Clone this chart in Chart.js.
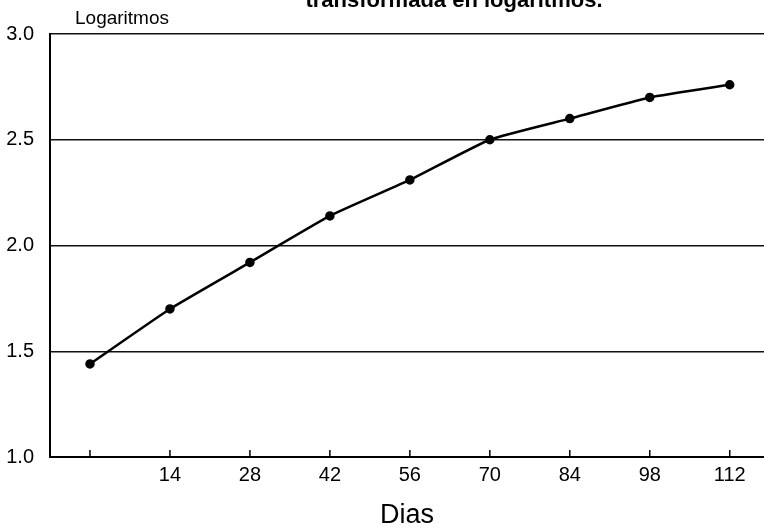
<!DOCTYPE html>
<html>
<head>
<meta charset="utf-8">
<script src="https://cdn.jsdelivr.net/npm/chart.js@4.4.1/dist/chart.umd.min.js"></script>
<style>
  body { margin: 0; background: #fff; }
  canvas { display: block; }
</style>
</head>
<body>
<canvas id="logChart" width="764" height="532"></canvas>
<script>
// data
var dias = [0, 14, 28, 42, 56, 70, 84, 98, 112];
var logaritmos = [1.44, 1.70, 1.92, 2.14, 2.31, 2.50, 2.60, 2.70, 2.76];
var xTicks = [0, 14, 28, 42, 56, 70, 84, 98, 112];
var yTicks = [1.0, 1.5, 2.0, 2.5, 3.0];

var FONT = '"Liberation Sans", Arial, sans-serif';

// title (cut off by the page top), y-axis caption and inside tick marks
var extras = {
    id: 'extras',
    afterDraw: function(chart) {
        var ctx = chart.ctx;
        var x = chart.scales.x;
        ctx.save();
        ctx.fillStyle = '#000';
        ctx.font = 'bold 22px ' + FONT;
        ctx.textAlign = 'center';
        ctx.textBaseline = 'alphabetic';
        ctx.fillText('transformada en logaritmos.', 454, 7);

        ctx.font = '19px ' + FONT;
        ctx.textAlign = 'left';
        ctx.fillText('Logaritmos', 75, 24);

        ctx.strokeStyle = '#000';
        ctx.lineWidth = 1.5;
        var yb = chart.chartArea.bottom;
        xTicks.forEach(function(v) {
            var px = x.getPixelForValue(v);
            ctx.beginPath();
            ctx.moveTo(px, yb);
            ctx.lineTo(px, yb - 7);
            ctx.stroke();
        });
        ctx.restore();
    }
};

var ctx = document.getElementById('logChart').getContext('2d');
var chart = new Chart(ctx, {
    type: 'line',
    data: {
        datasets: [{
            data: dias.map(function(d, i) { return { x: d, y: logaritmos[i] }; }),
            borderColor: '#000',
            backgroundColor: '#000',
            borderWidth: 2.5,
            pointRadius: 3.5,
            pointBackgroundColor: '#000',
            tension: 0.15,
            fill: false
        }]
    },
    options: {
        responsive: false,
        animation: false,
        layout: {
            autoPadding: false,
            padding: { top: 34, left: 0, right: 0, bottom: 0 }
        },
        plugins: {
            legend: { display: false },
            tooltip: { enabled: false }
        },
        scales: {
            x: {
                type: 'linear',
                min: -7,
                max: 118,
                afterBuildTicks: function(scale) {
                    scale.ticks = xTicks.map(function(v) { return { value: v }; });
                },
                afterFit: function(scale) { scale.height = 75; },
                grid: { display: false, drawTicks: false },
                border: { display: true, color: '#000', width: 2 },
                ticks: {
                    color: '#000',
                    font: { family: FONT, size: 20 },
                    padding: 6,
                    maxRotation: 0,
                    callback: function(v) { return v === 0 ? '' : String(v); }
                },
                title: {
                    display: true,
                    text: 'Dias',
                    color: '#000',
                    font: { family: FONT, size: 27 },
                    padding: { top: 2, bottom: 0 }
                }
            },
            y: {
                min: 1,
                max: 3,
                afterBuildTicks: function(scale) {
                    scale.ticks = yTicks.map(function(v) { return { value: v }; });
                },
                afterFit: function(scale) { scale.width = 50; },
                grid: {
                    color: '#111',
                    lineWidth: 1.5,
                    drawTicks: false
                },
                border: { display: true, color: '#000', width: 2 },
                ticks: {
                    color: '#000',
                    font: { family: FONT, size: 20 },
                    padding: 16,
                    callback: function(v) { return v.toFixed(1); }
                }
            }
        }
    },
    plugins: [extras]
});
</script>
</body>
</html>
